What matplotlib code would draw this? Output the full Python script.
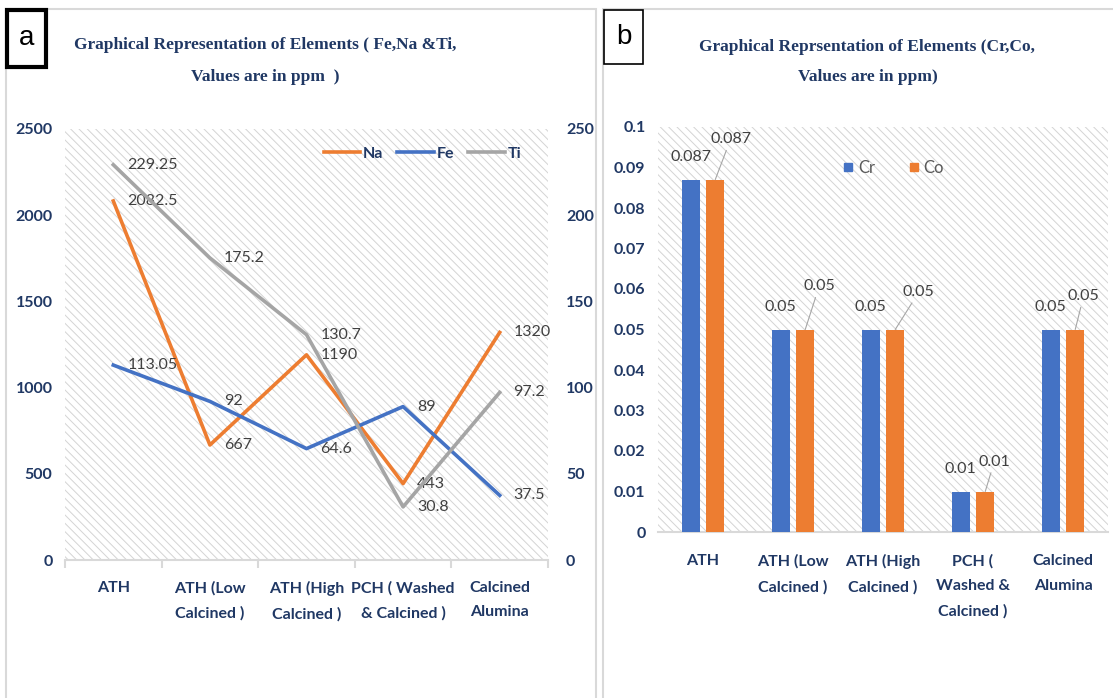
import matplotlib
matplotlib.use("Agg")
import matplotlib.pyplot as plt
import numpy as np
from matplotlib import font_manager
from matplotlib.lines import Line2D
from matplotlib.patches import Rectangle

# --- данные ---
line_categories = ['ATH', 'ATH (Low\nCalcined )', 'ATH (High\nCalcined )',
                   'PCH ( Washed\n& Calcined )', 'Calcined\nAlumina']
bar_categories = ['ATH', 'ATH (Low\nCalcined )', 'ATH (High\nCalcined )',
                  'PCH (\nWashed &\nCalcined )', 'Calcined\nAlumina']
na_values = [2082.5, 667, 1190, 443, 1320]
fe_values = [113.05, 92, 64.6, 89, 37.5]
ti_values = [229.25, 175.2, 130.7, 30.8, 97.2]
cr_values = [0.087, 0.05, 0.05, 0.01, 0.05]
co_values = [0.087, 0.05, 0.05, 0.01, 0.05]

left_title = ['Graphical Representation of Elements ( Fe,Na &Ti,', 'Values are in ppm  )']
right_title = ['Graphical Reprsentation of Elements (Cr,Co,', 'Values are in ppm)']

# --- стиль ---
W, H = 1113, 698
NAVY = '#203864'
LABEL_GRAY = '#404040'
ORANGE = '#ED7D31'
BLUE = '#4472C4'
GRAY = '#A5A5A5'
AXIS_GRAY = '#d9d9d9'

installed = {f.name for f in font_manager.fontManager.ttflist}
SANS = 'Lato' if 'Lato' in installed else 'Liberation Sans'
SERIF = 'Liberation Serif'

plt.rcParams['font.family'] = [SANS, 'DejaVu Sans']
plt.rcParams['hatch.linewidth'] = 0.7


def px(x0, y0, x1, y1):
    return [x0 / W, 1 - y1 / H, (x1 - x0) / W, (y1 - y0) / H]


def add_hatch(ax):
    bg = Rectangle((0, 0), 1, 1, transform=ax.transAxes, facecolor='white',
                   edgecolor='#d4d4d4', hatch='\\\\\\\\', lw=0, zorder=0)
    ax.add_patch(bg)


def style_ticklabels(labels, size=11.5):
    for lab in labels:
        lab.set_color(NAVY)
        lab.set_fontweight('bold')
        lab.set_fontsize(size)
        lab.set_linespacing(1.95)


def plot_line_panel(ax):
    x = np.arange(len(na_values))
    add_hatch(ax)
    ax.plot(x, na_values, color=ORANGE, lw=2.6, zorder=3)
    ax.set_xlim(-0.5, len(x) - 0.5)
    ax.set_ylim(0, 2500)
    ax.set_yticks(np.arange(0, 2501, 500))

    ax2 = ax.twinx()
    ax2.plot(x, fe_values, color=BLUE, lw=2.6, zorder=3)
    ax2.plot(x, ti_values, color=GRAY, lw=2.6, zorder=3)
    ax2.set_ylim(0, 250)
    ax2.set_yticks(np.arange(0, 251, 50))

    for a in (ax, ax2):
        for s in a.spines.values():
            s.set_visible(False)
    ax.spines['bottom'].set_visible(True)
    ax.spines['bottom'].set_color(AXIS_GRAY)
    ax.spines['bottom'].set_linewidth(1.5)

    ax.set_xticks(x)
    ax.set_xticklabels(line_categories)
    ax.set_xticks(np.arange(-0.5, len(x)), minor=True)
    ax.tick_params(axis='x', which='major', length=0, pad=15)
    ax.tick_params(axis='x', which='minor', length=6, color=AXIS_GRAY, width=1.5)
    ax.tick_params(axis='y', length=0, pad=9)
    ax2.tick_params(axis='y', length=0, pad=13)
    style_ticklabels(ax.get_xticklabels() + ax.get_yticklabels() + ax2.get_yticklabels())

    # подписи значений справа от точек
    for a, vals in ((ax, na_values), (ax2, fe_values), (ax2, ti_values)):
        for xi, v in zip(x, vals):
            a.annotate(f'{v:g}', (xi, v), xytext=(10, 0), textcoords='offset points',
                       ha='left', va='center', fontsize=11.5, color=LABEL_GRAY, zorder=5)

    handles = [Line2D([], [], color=ORANGE, lw=2.6),
               Line2D([], [], color=BLUE, lw=2.6),
               Line2D([], [], color=GRAY, lw=2.6)]
    leg = ax2.legend(handles, ['Na', 'Fe', 'Ti'], loc='center', bbox_to_anchor=(0.74, 0.942),
                     ncol=3, frameon=False, handlelength=2.3, handletextpad=0.15,
                     columnspacing=0.9, prop={'size': 11.5, 'weight': 'bold'})
    for t in leg.get_texts():
        t.set_color(NAVY)


def plot_bar_panel(ax):
    x = np.arange(len(cr_values))
    add_hatch(ax)
    w, off = 0.2, 0.136
    ax.bar(x - off, cr_values, w, color=BLUE, zorder=3)
    ax.bar(x + off, co_values, w, color=ORANGE, zorder=3)
    ax.set_xlim(-0.5, len(x) - 0.5)
    ax.set_ylim(0, 0.1)
    yt = np.round(np.arange(0, 0.1001, 0.01), 2)
    ax.set_yticks(yt)
    ax.set_yticklabels([f'{v:g}' for v in yt])

    for s in ax.spines.values():
        s.set_visible(False)
    ax.spines['bottom'].set_visible(True)
    ax.spines['bottom'].set_color(AXIS_GRAY)
    ax.spines['bottom'].set_linewidth(1.5)

    ax.set_xticks(x)
    ax.set_xticklabels(bar_categories)
    ax.tick_params(axis='x', length=0, pad=16)
    ax.tick_params(axis='y', length=0, pad=9)
    style_ticklabels(ax.get_xticklabels() + ax.get_yticklabels())

    # Cr — над столбцом, Co — сдвинутые подписи с выносной линией
    co_offsets = [(11, 29), (10, 31), (17, 27), (6.5, 21.5), (6, 24)]
    for xi, v in zip(x, cr_values):
        ax.annotate(f'{v:g}', (xi - off, v), xytext=(0, 16), textcoords='offset points',
                    ha='center', va='center', fontsize=11.5, color=LABEL_GRAY, zorder=5)
    for xi, v, (dx, dy) in zip(x, co_values, co_offsets):
        ax.annotate(f'{v:g}', (xi + off, v), xytext=(dx, dy), textcoords='offset points',
                    ha='center', va='center', fontsize=11.5, color=LABEL_GRAY, zorder=5,
                    arrowprops=dict(arrowstyle='-', color='#a6a6a6', lw=0.8,
                                    shrinkA=1, shrinkB=0))

    handles = [Line2D([], [], ls='none', marker='s', markersize=6, color=BLUE),
               Line2D([], [], ls='none', marker='s', markersize=6, color=ORANGE)]
    leg = ax.legend(handles, ['Cr', 'Co'], loc='center', bbox_to_anchor=(0.524, 0.899),
                    ncol=2, frameon=False, handlelength=0.6, handletextpad=0.3,
                    columnspacing=2.0, prop={'size': 12})
    for t in leg.get_texts():
        t.set_color('#595959')


fig = plt.figure(figsize=(W / 100, H / 100), dpi=100)

# рамки панелей
fig.add_artist(Rectangle((6 / W, -0.01), (596 - 6) / W, 1.01 - 9 / H, transform=fig.transFigure,
                         fill=False, edgecolor=AXIS_GRAY, lw=1.5))
fig.add_artist(Rectangle((603 / W, -0.01), (1125 - 603) / W, 1.01 - 9 / H, transform=fig.transFigure,
                         fill=False, edgecolor=AXIS_GRAY, lw=1.5))

ax_left = fig.add_axes(px(65, 129, 548, 560))
ax_right = fig.add_axes(px(658, 127, 1108, 532))
plot_line_panel(ax_left)
plot_bar_panel(ax_right)

# метки панелей
fig.add_artist(Rectangle((7 / W, 1 - 67 / H), 39 / W, 57 / H, transform=fig.transFigure,
                         facecolor='white', edgecolor='black', lw=3, zorder=10))
fig.text(26.5 / W, 1 - 38 / H, 'a', ha='center', va='center', fontsize=20,
         family='Liberation Sans', zorder=11)
fig.add_artist(Rectangle((604 / W, 1 - 64 / H), 39 / W, 54 / H, transform=fig.transFigure,
                         facecolor='white', edgecolor='black', lw=1.2, zorder=10))
fig.text(623.5 / W, 1 - 37 / H, 'b', ha='center', va='center', fontsize=20,
         family='Liberation Sans', zorder=11)

# заголовки
for (cx, cy), line in zip([(265, 45), (265, 77)], left_title):
    fig.text(cx / W, 1 - cy / H, line, ha='center', va='center', fontsize=12.5,
             family=SERIF, weight='bold', color=NAVY)
for (cx, cy), line in zip([(867, 47), (868, 77)], right_title):
    fig.text(cx / W, 1 - cy / H, line, ha='center', va='center', fontsize=12.5,
             family=SERIF, weight='bold', color=NAVY)

fig.savefig('out.png', dpi=100)
